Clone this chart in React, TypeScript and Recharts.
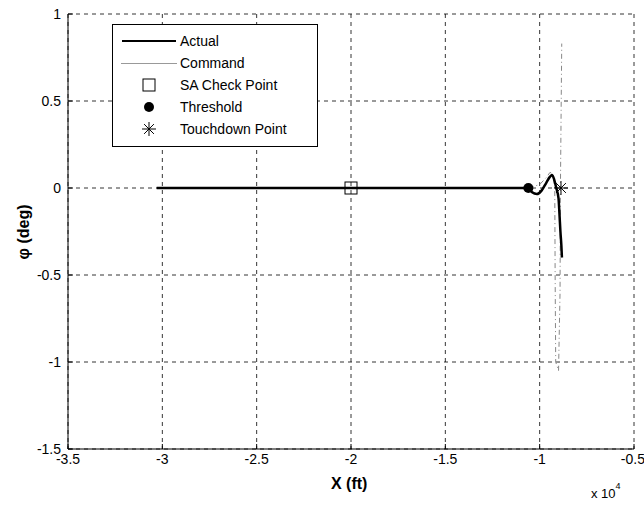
import { ComposedChart, Line, Scatter, XAxis, YAxis, CartesianGrid } from 'recharts';

// X in ft, phi in deg
const actualX = [-30300, -10600, -10400, -10150, -9900, -9650, -9450, -9350, -9250, -9120, -9000, -8950, -8900, -8850, -8820];
const actualY = [0, 0, -0.025, -0.035, -0.015, 0.03, 0.065, 0.075, 0.055, 0.0, -0.06, -0.15, -0.25, -0.33, -0.4];

const commandX = [-30300, -10600, -10000, -9650, -9450, -9300, -9200, -9180, -9150, -9000, -8920, -8900, -8830];
const commandY = [0, 0, 0.02, 0.06, 0.09, 0.08, 0.0, -0.5, -1.0, -1.05, -0.6, 0.0, 0.83];

const checkPoint = [{ x: -20000, y: 0 }];
const threshold = [{ x: -10600, y: 0 }];
const touchdown = [{ x: -8870, y: 0 }];

const xTicks = [-35000, -30000, -25000, -20000, -15000, -10000, -5000];
const yTicks = [-1.5, -1, -0.5, 0, 0.5, 1];

const actual = actualX.map((x, i) => ({ x, y: actualY[i] }));
const command = commandX.map((x, i) => ({ x, y: commandY[i] }));

const font = '"Liberation Sans", Arial, sans-serif';

function Square(props: any) {
  const { cx, cy } = props;
  return <rect x={cx - 6} y={cy - 6} width={12} height={12} fill="none" stroke="#000" strokeWidth={1} />;
}

function Dot(props: any) {
  const { cx, cy } = props;
  return <circle cx={cx} cy={cy} r={5} fill="#000" />;
}

function Star(props: any) {
  const { cx, cy } = props;
  const r = 7;
  const d = r * 0.7;
  return (
    <g stroke="#000" strokeWidth={1}>
      <line x1={cx - r} y1={cy} x2={cx + r} y2={cy} />
      <line x1={cx} y1={cy - r} x2={cx} y2={cy + r} />
      <line x1={cx - d} y1={cy - d} x2={cx + d} y2={cy + d} />
      <line x1={cx - d} y1={cy + d} x2={cx + d} y2={cy - d} />
    </g>
  );
}

function LegendBox() {
  const row = { display: 'flex', alignItems: 'center', height: 22 };
  const icon = { width: 56, display: 'flex', justifyContent: 'center', marginRight: 3 };
  return (
    <div style={{ position: 'absolute', left: 112, top: 24, border: '1px solid #000', background: '#fff', width: 192, padding: '5px 4px 6px 8px', fontFamily: font, fontSize: 14, color: '#000' }}>
      <div style={row}><div style={icon}><div style={{ width: 54, height: 2.5, background: '#000' }} /></div>Actual</div>
      <div style={row}><div style={icon}><div style={{ width: 56, height: 1, background: '#999' }} /></div>Command</div>
      <div style={row}><div style={icon}><svg width={14} height={14}><rect x={1} y={1} width={12} height={12} fill="none" stroke="#000" /></svg></div>SA Check Point</div>
      <div style={row}><div style={icon}><svg width={12} height={12}><circle cx={6} cy={6} r={5} fill="#000" /></svg></div>Threshold</div>
      <div style={row}><div style={icon}><svg width={16} height={16}><Star cx={8} cy={8} /></svg></div>Touchdown Point</div>
    </div>
  );
}

export default function App() {
  return (
    <div style={{ position: 'absolute', left: 0, top: 0, width: 644, height: 506, background: '#fff' }}>
      <ComposedChart width={644} height={506} margin={{ top: 14, right: 10, bottom: 27, left: 24 }}>
        <CartesianGrid stroke="#000" strokeDasharray="4 4" strokeWidth={0.8} />
        <XAxis
          type="number"
          dataKey="x"
          domain={[-35000, -5000]}
          ticks={xTicks}
          tickFormatter={(v: number) => String(v / 10000)}
          stroke="#000"
          tickSize={-5}
          tickMargin={10}
          height={30}
          tick={{ fill: '#000', fontSize: 14, fontFamily: font }}
          allowDataOverflow
        />
        <XAxis xAxisId="top" orientation="top" type="number" domain={[-35000, -5000]} ticks={xTicks} stroke="#000" tick={false} tickSize={-5} height={0} />
        <YAxis
          type="number"
          dataKey="y"
          domain={[-1.5, 1]}
          ticks={yTicks}
          stroke="#000"
          tickSize={-5}
          tickMargin={12}
          width={44}
          tick={{ fill: '#000', fontSize: 14, fontFamily: font }}
          allowDataOverflow
        />
        <YAxis yAxisId="right" orientation="right" type="number" domain={[-1.5, 1]} ticks={yTicks} stroke="#000" tick={false} tickSize={-5} width={0} />
        <Line data={command} dataKey="y" stroke="#888" strokeWidth={1} strokeDasharray="5 3 1 3" dot={false} isAnimationActive={false} legendType="none" />
        <Line data={actual} dataKey="y" stroke="#000" strokeWidth={2.5} dot={false} type="monotone" isAnimationActive={false} legendType="none" />
        <Scatter data={checkPoint} dataKey="y" shape={<Square />} isAnimationActive={false} legendType="none" />
        <Scatter data={threshold} dataKey="y" shape={<Dot />} isAnimationActive={false} legendType="none" />
        <Scatter data={touchdown} dataKey="y" shape={<Star />} isAnimationActive={false} legendType="none" />
      </ComposedChart>
      <LegendBox />
      <div style={{ position: 'absolute', left: 0, top: 0, width: 46, height: 464, display: 'flex', alignItems: 'center', justifyContent: 'center' }}>
        <div style={{ transform: 'rotate(-90deg)', fontFamily: font, fontWeight: 'bold', fontSize: 16, whiteSpace: 'nowrap' }}>φ (deg)</div>
      </div>
      <div style={{ position: 'absolute', left: 331, top: 475, fontFamily: font, fontWeight: 'bold', fontSize: 16 }}>X (ft)</div>
      <div style={{ position: 'absolute', left: 591, top: 486, fontFamily: font, fontSize: 13 }}>x 10<sup style={{ fontSize: 9, verticalAlign: 'top', position: 'relative', top: -5 }}>4</sup></div>
    </div>
  );
}
